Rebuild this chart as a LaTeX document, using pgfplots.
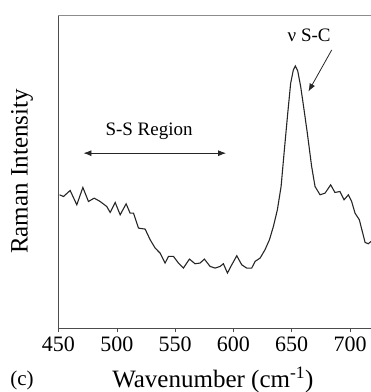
\documentclass[border=0pt]{standalone}
\usepackage{pgfplots}
\pgfplotsset{compat=1.18}
\usepackage{fontspec}
\setmainfont{Liberation Serif}
\usetikzlibrary{arrows.meta}
\begin{document}
\begin{tikzpicture}
\path[use as bounding box] (-58.5pt,-64pt) rectangle (312.5pt,328pt);
\begin{axis}[
  at={(0,0)}, anchor=south west,
  scale only axis, width=312.5pt, height=313pt,
  xmin=450, xmax=718, ymin=0, ymax=940,
  axis lines*=left,
  axis line style={black!70, line width=0.8pt},
  xtick={450,500,550,600,650,700},
  ytick=\empty,
  tick align=outside, major tick length=4pt,
  tick style={black!70, line width=0.6pt},
  /pgf/number format/assume math mode=true,
  /pgf/number format/set thousands separator={},
  xticklabel style={font=\fontsize{22}{26}\selectfont, yshift=-1pt},
  xlabel={Wavenumber (cm\textsuperscript{-1})},
  ylabel={Raman Intensity},
  xlabel style={font=\fontsize{25}{30}\selectfont, at={(axis description cs:0.494,0)}, anchor=center, yshift=-52pt},
  ylabel style={font=\fontsize{25}{30}\selectfont, at={(axis description cs:0,0.5)}, anchor=center, yshift=36.5pt},
  clip=false,
]
\draw[black!45, line width=0.8pt] (rel axis cs:0,1) -- (rel axis cs:1,1);
\addplot[black!85, line width=1.1pt] coordinates {
(450.9,400) (454.3,395) (460,413) (465.7,370) (470.9,422) (475.7,380)
(480.6,390) (485.7,380) (491.4,365) (494.3,347) (498.6,377) (502.9,340)
(508,373) (511.4,345) (514.3,345) (518.6,300) (524.3,297) (528.6,265)
(532.9,240) (537.1,225) (541.4,195) (544.3,215) (548.6,215) (552.9,195)
(557.1,180) (562.3,207) (567.1,193) (571.4,195) (575.1,207) (580,185)
(584.3,180) (588.6,185) (591.4,193) (594.9,165) (598.6,190) (602.9,217)
(607.1,190) (611.4,180) (615.7,180) (618.6,200) (622.9,210) (627.1,235)
(630.9,265) (634.3,305) (637.7,355) (640.9,425) (643.7,535) (646.6,645)
(649.1,735) (651.4,775) (653.1,787) (655.1,773) (657.7,725) (660.6,655)
(663.4,585) (667.1,485) (670,425) (674.3,400) (678.6,405) (683.4,430)
(687.1,407) (691.4,410) (694.9,385) (698.6,400) (701.4,380) (704.3,345)
(708,325) (710.9,285) (712.9,257) (715.7,253) (718,260)
};
\node[font=\fontsize{19}{23}\selectfont] at (axis cs:665,880) {ν S-C};
\draw[-{Latex[length=8pt,width=6pt]}, black!85, line width=0.8pt] (axis cs:684.3,835) -- (axis cs:664.3,710);
\node[font=\fontsize{19}{23}\selectfont] at (axis cs:527.7,590) {S-S Region};
\draw[{Latex[length=8pt,width=6pt]}-{Latex[length=8pt,width=6pt]}, black!85, line width=0.8pt] (axis cs:471.4,525) -- (axis cs:593.7,525);
\node[font=\fontsize{21}{25}\selectfont] at ([xshift=-36.5pt,yshift=-52pt]rel axis cs:0,0) {(c)};
\end{axis}
\end{tikzpicture}
\end{document}
